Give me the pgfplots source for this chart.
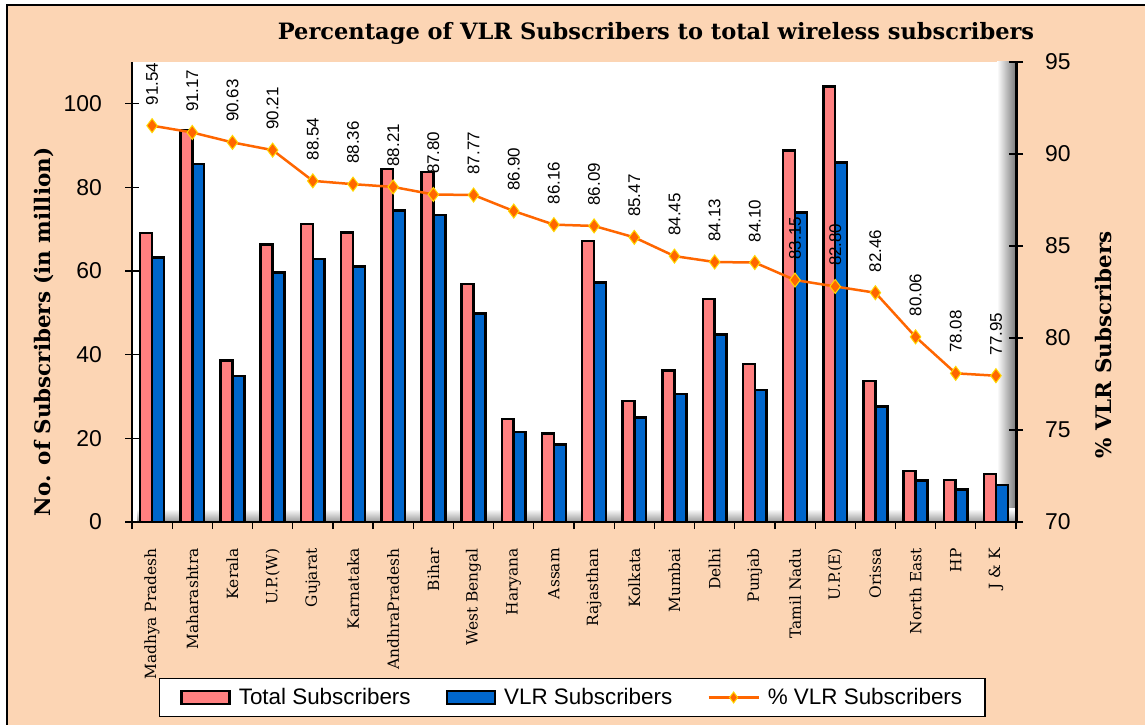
\documentclass[border=0pt]{standalone}
\usepackage{pgfplots}
\pgfplotsset{compat=1.18}
\usepackage{fontspec}
\setmainfont{Liberation Sans}
\newfontfamily\tickfont{Liberation Sans}
\newfontfamily\dvs{DejaVu Serif}
\definecolor{peach}{HTML}{FCD5B4}
\definecolor{totpink}{HTML}{FF8080}
\definecolor{vlrblue}{HTML}{0066CC}
\definecolor{vlrorange}{HTML}{FF6600}
\definecolor{markedge}{HTML}{FFD700}
\pgfplotstableread{
x tot vlr pct
0 69.1 63.2 91.54
1 93.6 85.6 91.17
2 38.6 34.9 90.63
3 66.4 59.7 90.21
4 71.3 62.9 88.54
5 69.2 61.1 88.36
6 84.4 74.5 88.21
7 83.7 73.4 87.80
8 56.9 49.9 87.77
9 24.6 21.5 86.90
10 21.2 18.5 86.16
11 67.2 57.3 86.09
12 28.9 25.0 85.47
13 36.2 30.6 84.45
14 53.3 44.8 84.13
15 37.8 31.6 84.10
16 88.8 74.0 83.15
17 104.1 86.0 82.80
18 33.7 27.6 82.46
19 12.2 9.9 80.06
20 10.0 7.8 78.08
21 11.5 8.9 77.95
}\datatable
\begin{document}
\begin{tikzpicture}
\path[use as bounding box] (0,0) rectangle (1145bp,725bp);
\fill[white] (0,0) rectangle (1145bp,725bp);
\fill[peach] (7bp,0) rectangle (1145bp,720bp);
\draw[black, line width=1.2bp] (7bp,0) -- (7bp,720bp) -- (1145bp,720bp);
% plot area
\fill[white] (132bp,203bp) rectangle (1016bp,663bp);
\shade[left color=white, right color=black!50] (997bp,206bp) rectangle (1015bp,663bp);
\shade[top color=white, bottom color=black!40] (137bp,203bp) rectangle (1015bp,216bp);
% title and axis titles
\node[font=\dvs\bfseries\fontsize{22.6}{25}\selectfont] at (656bp,692bp) {Percentage of VLR Subscribers to total wireless subscribers};
\node[rotate=90, font=\dvs\bfseries\fontsize{21.5}{24}\selectfont] at (44bp,393bp) {No. of Subscribers (in million)};
\node[rotate=90, font=\dvs\bfseries\fontsize{21.5}{24}\selectfont] at (1103bp,380bp) {\% VLR Subscribers};
\begin{axis}[
  at={(132bp,203bp)}, anchor=south west, scale only axis,
  width=884bp, height=460bp,
  xmin=-0.5, xmax=21.5, ymin=0, ymax=110,
  axis x line=bottom, axis y line=left,
  axis line style={-, black, line width=1.5bp},
  tick align=center,
  ytick={0,20,...,100},
  major tick length=14bp,
  ytick style={black, line width=1.2bp},
  yticklabel style={font=\tickfont\fontsize{23}{23}\selectfont, inner sep=0pt, anchor=east},
  yticklabel shift=23bp,
  /pgf/number format/assume math mode=true,
  xtick={0,...,21},
  xticklabels={Madhya Pradesh, Maharashtra, Kerala, U.P.(W), Gujarat, Karnataka, AndhraPradesh, Bihar, West Bengal, Haryana, Assam, Rajasthan, Kolkata, Mumbai, Delhi, Punjab, Tamil Nadu, U.P.(E), Orissa, North East, HP, J \& K},
  xticklabel style={rotate=90, anchor=east, inner sep=0pt, font=\dvs\fontsize{15.5}{15.5}\selectfont},
  xticklabel shift=19bp,
  major x tick style={draw=none},
  minor xtick={-0.5,0.5,...,21.5},
  minor tick length=7bp,
  minor x tick style={black, line width=1.2bp, yshift=-3.5bp},
  legend columns=3,
  legend style={at={(0.498,-0.3815)}, anchor=center, draw=black, line width=1.5bp, fill=white,
    font=\tickfont\fontsize{22.5}{22.5}\selectfont, inner xsep=21bp, inner ysep=8bp,
    /tikz/every odd column/.append style={column sep=6bp},
    /tikz/every even column/.append style={column sep=33bp}},
]
\addplot[ybar, bar width=0.296, bar shift=-0.148, fill=totpink, draw=black, line width=2.5bp,
  legend image code/.code={\draw[fill=totpink, draw=black, line width=2.5bp] (0bp,-6.5bp) rectangle (48bp,6.5bp);}]
  table[x=x, y=tot] {\datatable};
\addlegendentry{Total Subscribers}
\addplot[ybar, bar width=0.296, bar shift=0.148, fill=vlrblue, draw=black, line width=2.5bp,
  legend image code/.code={\draw[fill=vlrblue, draw=black, line width=2.5bp] (0bp,-6.5bp) rectangle (48bp,6.5bp);}]
  table[x=x, y=vlr] {\datatable};
\addlegendentry{VLR Subscribers}
\addlegendimage{legend image code/.code={\draw[vlrorange, line width=2.5bp] (0bp,0bp) -- (50bp,0bp); \path[fill=vlrorange, draw=markedge, line width=1bp] (25bp,5.5bp) -- (29bp,0bp) -- (25bp,-5.5bp) -- (21bp,0bp) -- cycle;}}
\addlegendentry{\% VLR Subscribers}
\end{axis}
\begin{axis}[
  at={(132bp,203bp)}, anchor=south west, scale only axis,
  width=884bp, height=460bp,
  xmin=-0.5, xmax=21.5, ymin=70, ymax=95,
  axis x line=none, axis y line=right,
  axis line style={-, black, line width=3bp},
  tick align=center,
  ytick={70,75,...,95},
  major tick length=14bp,
  ytick style={black, line width=1.2bp},
  yticklabel style={font=\tickfont\fontsize{23}{23}\selectfont, inner sep=0pt, anchor=west},
  yticklabel shift=22bp,
  /pgf/number format/assume math mode=true,
  clip=false,
  nodes near coords={\pgfmathprintnumber[fixed, fixed zerofill, precision=2]{\pgfplotspointmeta}},
  nodes near coords style={rotate=90, anchor=west, inner xsep=20bp, inner ysep=0pt, black, font=\tickfont\fontsize{17}{17}\selectfont},
]
\addplot[color=vlrorange, line width=2.5bp, mark=diamond*, mark size=7bp,
  mark options={fill=vlrorange, draw=markedge, line width=1bp}, point meta=y]
  table[x=x, y=pct] {\datatable};
\end{axis}
\end{tikzpicture}
\end{document}
